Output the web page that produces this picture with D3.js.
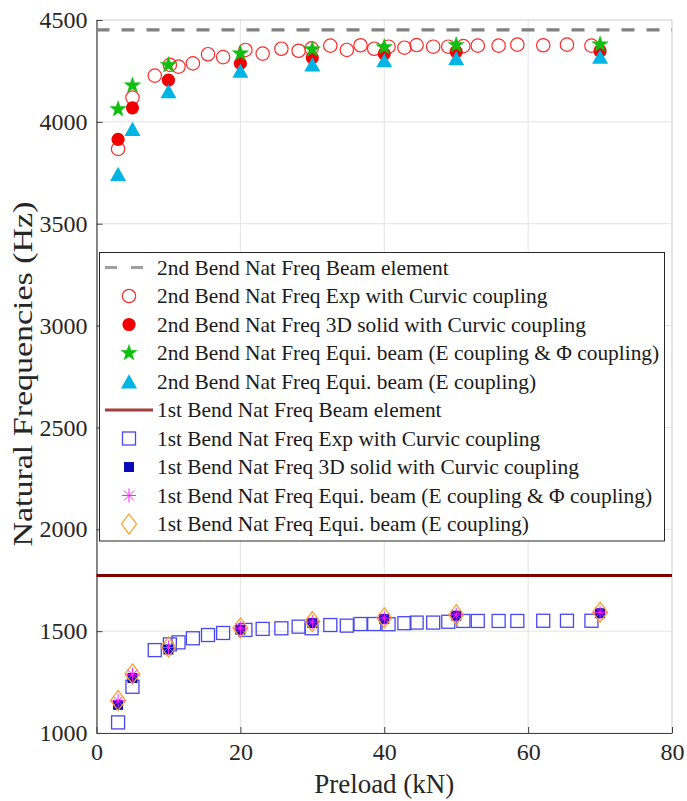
<!DOCTYPE html>
<html>
<head>
<meta charset="utf-8">
<script src="https://cdn.jsdelivr.net/npm/d3@7"></script>
<style>
  html, body { margin: 0; padding: 0; background: #fff; }
  svg { display: block; }
  svg text { font-family: "Times New Roman", "Liberation Serif", Tinos, "DejaVu Serif", serif; }
</style>
</head>
<body>
<svg id="chart" width="687" height="801"></svg>
<script>
// Preload levels (kN)
const simLoad = [3, 5, 10, 20, 30, 40, 50, 70];
const expLoad = [3, 5, 8.1, 10.2, 11.4, 13.4, 15.5, 17.6, 20.7, 23.1, 25.7, 28.1, 29.9,
                 32.5, 34.8, 36.7, 38.6, 40.6, 42.8, 44.5, 46.8, 48.9, 51.0, 53.0, 55.9,
                 58.5, 62.1, 65.4, 68.8];

// Beam element reference frequencies (Hz)
const bend2Beam = 4452;
const bend1Beam = 1773;

// 2nd bending natural frequency (Hz)
const bend2Exp = [3867, 4119, 4227, 4280, 4271, 4287, 4332, 4318, 4353, 4335, 4359, 4349, 4361,
                  4374, 4353, 4376, 4359, 4369, 4364, 4377, 4369, 4369, 4372, 4374, 4374,
                  4379, 4376, 4379, 4374];
const bend2Solid = [3914, 4069, 4205, 4287, 4315, 4334, 4344, 4348];
const bend2EPhi  = [4062, 4179, 4279, 4336, 4356, 4367, 4377, 4380];
const bend2E     = [3744, 3965, 4150, 4251, 4282, 4302, 4312, 4320];

// 1st bending natural frequency (Hz)
const bend1Exp = [1052, 1227, 1407, 1435, 1445, 1465, 1481, 1491, 1506, 1511, 1514, 1522, 1514,
                  1530, 1527, 1535, 1535, 1534, 1539, 1542, 1542, 1546, 1550, 1550, 1550,
                  1550, 1551, 1551, 1551];
const bend1Solid = [1138, 1270, 1410, 1507, 1540, 1560, 1576, 1588];
const bend1EPhi  = [1158, 1286, 1420, 1514, 1545, 1564, 1580, 1592];
const bend1E     = [1160, 1290, 1422, 1516, 1547, 1566, 1581, 1593];

const xTicks = [0, 20, 40, 60, 80];
const yTicks = [1000, 1500, 2000, 2500, 3000, 3500, 4000, 4500];

const legendLabels = [
  "2nd Bend Nat Freq Beam element",
  "2nd Bend Nat Freq Exp with Curvic coupling",
  "2nd Bend Nat Freq 3D solid with Curvic coupling",
  "2nd Bend Nat Freq Equi. beam (E coupling & \u03A6 coupling)",
  "2nd Bend Nat Freq Equi. beam (E coupling)",
  "1st Bend Nat Freq Beam element",
  "1st Bend Nat Freq Exp with Curvic coupling",
  "1st Bend Nat Freq 3D solid with Curvic coupling",
  "1st Bend Nat Freq Equi. beam (E coupling & \u03A6 coupling)",
  "1st Bend Nat Freq Equi. beam (E coupling)"
];

const FONT = "'Times New Roman', 'Liberation Serif', Tinos, 'DejaVu Serif', serif";
const svg = d3.select("#chart");
const plot = { left: 96.5, right: 672, top: 20, bottom: 733 };

const x = d3.scaleLinear().domain([0, 80]).range([plot.left, plot.right]);
const y = d3.scaleLinear().domain([1000, 4500]).range([plot.bottom, plot.top]);

// Grid
const grid = svg.append("g");
grid.selectAll("line.gx").data(xTicks).join("line")
  .attr("x1", d => x(d)).attr("x2", d => x(d))
  .attr("y1", plot.top).attr("y2", plot.bottom)
  .attr("stroke", "#e3e3e3").attr("stroke-width", 1);
grid.selectAll("line.gy").data(yTicks).join("line")
  .attr("x1", plot.left).attr("x2", plot.right)
  .attr("y1", d => y(d)).attr("y2", d => y(d))
  .attr("stroke", "#e3e3e3").attr("stroke-width", 1);

// Box: light top/right edges
svg.append("line").attr("x1", plot.left).attr("x2", plot.right).attr("y1", plot.top).attr("y2", plot.top)
  .attr("stroke", "#d9d9d9");
svg.append("line").attr("x1", plot.right).attr("x2", plot.right).attr("y1", plot.top).attr("y2", plot.bottom)
  .attr("stroke", "#d9d9d9");

// Axes with inward ticks
const xAxis = d3.axisBottom(x).tickValues(xTicks).tickFormat(d3.format("d"))
  .tickSizeInner(-6).tickSizeOuter(0).tickPadding(10);
const yAxis = d3.axisLeft(y).tickValues(yTicks).tickFormat(d3.format("d"))
  .tickSizeInner(-6).tickSizeOuter(0).tickPadding(9);

const gx = svg.append("g").attr("transform", `translate(0,${plot.bottom})`).call(xAxis);
const gy = svg.append("g").attr("transform", `translate(${plot.left},0)`).call(yAxis);
[gx, gy].forEach(g => {
  g.attr("font-family", FONT).attr("font-size", 24);
  g.select(".domain").attr("stroke", "#404040").attr("stroke-width", 1.2);
  g.selectAll(".tick line").attr("stroke", "#404040");
  g.selectAll(".tick text").attr("fill", "#262626")
    .style("font-family", FONT).style("font-size", "24px");
});

// Axis titles
svg.append("text").attr("x", x(40)).attr("y", 793).attr("text-anchor", "middle")
  .attr("fill", "#262626").style("font-family", FONT).style("font-size", "27px").text("Preload (kN)");
svg.append("text").attr("transform", `translate(32,374) rotate(-90)`)
  .attr("text-anchor", "middle").attr("fill", "#262626").style("font-family", FONT).style("font-size", "28px")
  .attr("textLength", 345).attr("lengthAdjust", "spacingAndGlyphs")
  .text("Natural Frequencies (Hz)");

// Marker painters
function star(r) {
  const pts = [];
  for (let i = 0; i < 10; i++) {
    const a = -Math.PI / 2 + i * Math.PI / 5;
    const rr = i % 2 === 0 ? r : r * 0.4;
    pts.push([rr * Math.cos(a), rr * Math.sin(a)]);
  }
  return "M" + pts.map(p => p.join(",")).join("L") + "Z";
}
const markers = {
  openCircle: g => g.append("circle").attr("r", 6.7).attr("fill", "none").attr("stroke", "#ff2a2a").attr("stroke-width", 1.2),
  fillCircle: g => g.append("circle").attr("r", 6.6).attr("fill", "#f00000"),
  star: g => g.append("path").attr("d", star(8.5)).attr("fill", "#10c010").attr("stroke", "#10c010").attr("stroke-width", 0.5),
  triangle: g => g.append("path").attr("d", "M0,-7.2L8,7L-8,7Z").attr("fill", "#00b4e4"),
  openSquare: g => g.append("rect").attr("x", -6.5).attr("y", -6.5).attr("width", 13).attr("height", 13)
    .attr("fill", "none").attr("stroke", "#4848f0").attr("stroke-width", 1.3),
  fillSquare: g => g.append("rect").attr("x", -5).attr("y", -5).attr("width", 10).attr("height", 10).attr("fill", "#0a0ab8"),
  asterisk: g => g.append("path")
    .attr("d", "M0,-7L0,7M-7,0L7,0M-5,-5L5,5M-5,5L5,-5")
    .attr("fill", "none").attr("stroke", "#ff20ff").attr("stroke-width", 1),
  diamond: g => g.append("path").attr("d", "M0,-10L7.5,0L0,10L-7.5,0Z")
    .attr("fill", "none").attr("stroke", "#ff9a1a").attr("stroke-width", 1.2)
};

function scatter(xs, ys, kind) {
  const g = svg.append("g");
  xs.forEach((xv, i) => {
    const m = g.append("g").attr("transform", `translate(${x(xv)},${y(ys[i])})`);
    markers[kind](m);
  });
}

// Second bending mode
svg.append("line").attr("x1", x(0)).attr("x2", x(80)).attr("y1", y(bend2Beam)).attr("y2", y(bend2Beam))
  .attr("stroke", "#808080").attr("stroke-width", 3.2).attr("stroke-dasharray", "13,12");
scatter(expLoad, bend2Exp, "openCircle");
scatter(simLoad, bend2Solid, "fillCircle");
scatter(simLoad, bend2EPhi, "star");
scatter(simLoad, bend2E, "triangle");

// First bending mode
svg.append("line").attr("x1", x(0)).attr("x2", x(80)).attr("y1", y(bend1Beam)).attr("y2", y(bend1Beam))
  .attr("stroke", "#800000").attr("stroke-width", 3);
scatter(expLoad, bend1Exp, "openSquare");
scatter(simLoad, bend1Solid, "fillSquare");
scatter(simLoad, bend1EPhi, "asterisk");
scatter(simLoad, bend1E, "diamond");

// Legend
const leg = svg.append("g");
leg.append("rect").attr("x", 99.5).attr("y", 252.5).attr("width", 565).attr("height", 288.5)
  .attr("fill", "#fff").attr("stroke", "#262626").attr("stroke-width", 1);
const legKinds = ["dash", "openCircle", "fillCircle", "star", "triangle", "line",
                  "openSquare", "fillSquare", "asterisk", "diamond"];
const rowY = i => 267.5 + i * 28.5;
legendLabels.forEach((lab, i) => {
  const cy = rowY(i);
  const k = legKinds[i];
  if (k === "dash") {
    leg.append("line").attr("x1", 105).attr("x2", 143).attr("y1", cy).attr("y2", cy)
      .attr("stroke", "#a0a0a0").attr("stroke-width", 3).attr("stroke-dasharray", "12,14");
  } else if (k === "line") {
    leg.append("line").attr("x1", 105).attr("x2", 153).attr("y1", cy).attr("y2", cy)
      .attr("stroke", "#a04040").attr("stroke-width", 3);
  } else {
    markers[k](leg.append("g").attr("transform", `translate(129,${cy})`));
  }
  leg.append("text").attr("x", 157).attr("y", cy + 7).attr("fill", "#1a1a1a")
    .style("font-family", FONT).style("font-size", "21.4px").text(lab);
});
</script>
</body>
</html>
